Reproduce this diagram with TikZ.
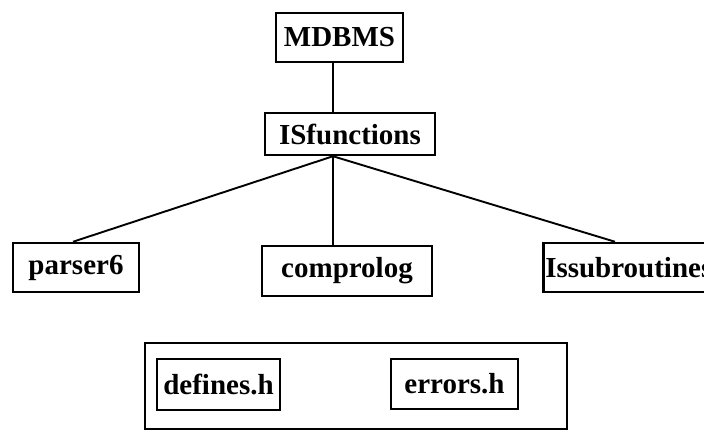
\documentclass[tikz,border=0pt]{standalone}
\usepackage{fontspec}
\setmainfont{Liberation Serif}
\begin{document}
\begin{tikzpicture}[x=1pt,y=1pt,
  modbox/.style={draw, line width=2.5pt, inner sep=0pt, font=\bfseries\fontsize{29}{29}\selectfont},
  link/.style={line width=1.9pt}]
\clip (0,0) rectangle (704,431);
\fill[white] (0,0) rectangle (704,431);

% module hierarchy
\node[modbox, minimum width=127, minimum height=49] (md) at (339.5,393.5) {MDBMS};
\node[modbox, minimum width=170, minimum height=42] (isf) at (350,297) {ISfunctions};
\node[modbox, minimum width=126, minimum height=49] (p6) at (76,163.5) {parser6};
\node[modbox, minimum width=170, minimum height=50] (cp) at (347,160) {comprolog};
\node[modbox, minimum height=49, inner xsep=2pt, anchor=west] (iss) at (542,163.5) {Issubroutines};

% header files
\node[draw, line width=2.5pt, minimum width=422, minimum height=86] (hdr) at (356,45) {};
\node[modbox, minimum width=123, minimum height=51] (def) at (218.5,46.5) {defines.h};
\node[modbox, minimum width=127, minimum height=50] (err) at (454.5,47) {errors.h};

% attachment points of the connectors
\coordinate (ja) at (333,0);
\coordinate (pa) at (73,0);
\coordinate (pi) at (615,0);

\draw[link] (md.south -| ja) -- (isf.north -| ja);
\draw[link] (isf.south -| ja) -- (p6.north -| pa);
\draw[link] (isf.south -| ja) -- (cp.north -| ja);
\draw[link] (isf.south -| ja) -- (iss.north -| pi);
\end{tikzpicture}
\end{document}
